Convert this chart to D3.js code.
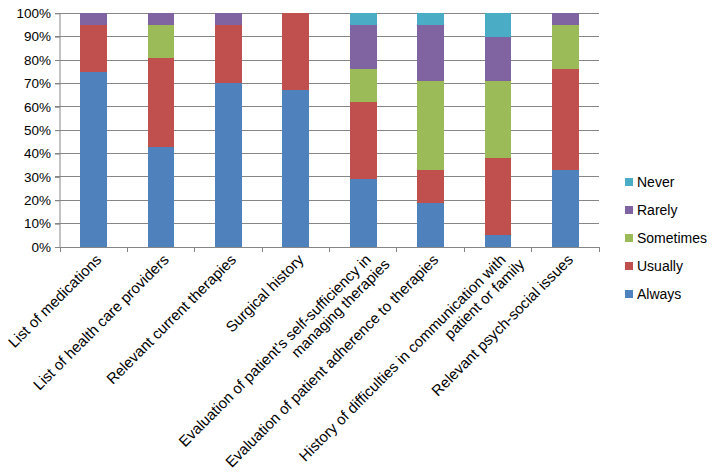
<!DOCTYPE html>
<html>
<head>
<meta charset="utf-8">
<script src="https://cdn.jsdelivr.net/npm/d3@7"></script>
<style>
  html, body { margin: 0; padding: 0; background: #fff; }
  svg text { font-family: "Liberation Sans", Arial, sans-serif; fill: #000; }
</style>
</head>
<body>
<svg id="chart" width="714" height="474"></svg>
<script>
const categories = [
  ["List of medications"],
  ["List of health care providers"],
  ["Relevant current therapies"],
  ["Surgical history"],
  ["Evaluation of patient's self-sufficiency in", "managing therapies"],
  ["Evaluation of patient adherence to therapies"],
  ["History of difficulties in communication with", "patient or family"],
  ["Relevant psych-social issues"]
];
const seriesNames = ["Always", "Usually", "Sometimes", "Rarely", "Never"];
const always    = [75, 43, 70, 67, 29, 19, 5, 33];
const usually   = [20, 38, 25, 33, 33, 14, 33, 43];
const sometimes = [0, 14, 0, 0, 14, 38, 33, 19];
const rarely    = [5, 5, 5, 0, 19, 24, 19, 5];
const never     = [0, 0, 0, 0, 5, 5, 10, 0];
const colors = ["#4F81BD", "#C0504D", "#9BBB59", "#8064A2", "#4BACC6"];
const yTicks = [0, 10, 20, 30, 40, 50, 60, 70, 80, 90, 100];

const seriesValues = [always, usually, sometimes, rarely, never];
const rows = categories.map((c, i) => {
  const r = { idx: i };
  seriesNames.forEach((s, k) => r[s] = seriesValues[k][i]);
  return r;
});

const svg = d3.select("#chart");
const mLeft = 60, mRight = 599, mTop = 13.3, mBottom = 247;

const x = d3.scaleBand().domain(d3.range(categories.length)).range([mLeft, mRight]).padding(0);
const y = d3.scaleLinear().domain([0, 100]).range([mBottom, mTop]);
const color = d3.scaleOrdinal().domain(seriesNames).range(colors);

// gridlines
svg.append("g").selectAll("line").data(yTicks.filter(t => t > 0)).join("line")
  .attr("x1", mLeft - 5).attr("x2", mRight)
  .attr("y1", d => y(d)).attr("y2", d => y(d))
  .attr("stroke", "#868686").attr("stroke-width", 1).attr("shape-rendering", "crispEdges");

// bars
const stack = d3.stack().keys(seriesNames)(rows);
const barW = x.bandwidth() * 0.396;
svg.append("g").selectAll("g").data(stack).join("g")
  .attr("fill", d => color(d.key))
  .selectAll("rect").data(d => d).join("rect")
  .attr("x", (d, i) => x(i) + (x.bandwidth() - barW) / 2)
  .attr("width", barW)
  .attr("y", d => y(d[1]))
  .attr("height", d => y(d[0]) - y(d[1]))
  .attr("shape-rendering", "crispEdges");

// y axis
const yAxis = d3.axisLeft(y).tickValues(yTicks).tickFormat(d => d + "%").tickSize(5).tickPadding(4);
const gy = svg.append("g").attr("transform", `translate(${mLeft},0)`).call(yAxis);
gy.select(".domain").attr("stroke", "#868686").attr("d", `M0,${mTop}V${mBottom}`);
gy.selectAll(".tick line").attr("stroke", "#868686");
gy.selectAll(".tick text").style("font-size", "13.5px").style("font-family", "Liberation Sans, Arial, sans-serif").attr("fill", "#000");

// x axis line and ticks at category boundaries
svg.append("line").attr("x1", mLeft).attr("x2", mRight).attr("y1", mBottom).attr("y2", mBottom)
  .attr("stroke", "#868686").attr("shape-rendering", "crispEdges");
const bounds = d3.range(categories.length + 1).map(i => i === categories.length ? mRight : x(i));
svg.append("g").selectAll("line").data(bounds).join("line")
  .attr("x1", d => d).attr("x2", d => d).attr("y1", mBottom).attr("y2", mBottom + 5)
  .attr("stroke", "#868686").attr("shape-rendering", "crispEdges");

// category labels
const lab = svg.append("g").selectAll("g").data(categories).join("g")
  .attr("transform", (d, i) => `translate(${x(i) + x.bandwidth() / 2 + 5},${mBottom + 10}) rotate(-45)`);
lab.each(function(lines) {
  const g = d3.select(this);
  lines.forEach((t, k) => {
    g.append("text")
      .attr("text-anchor", "end")
      .attr("x", k * 10)
      .attr("dy", (0.35 + k * 1.1) + "em")
      .style("font-size", "15px")
      .text(t);
  });
});

// legend
const legendOrder = seriesNames.slice().reverse();
const lg = svg.append("g").selectAll("g").data(legendOrder).join("g")
  .attr("transform", (d, i) => `translate(625,${182 + i * 28})`);
lg.append("rect").attr("x", 0).attr("y", -4).attr("width", 8).attr("height", 8).attr("fill", d => color(d));
lg.append("text").attr("x", 12).attr("dy", "0.35em").style("font-size", "14px").text(d => d);
</script>
</body>
</html>
